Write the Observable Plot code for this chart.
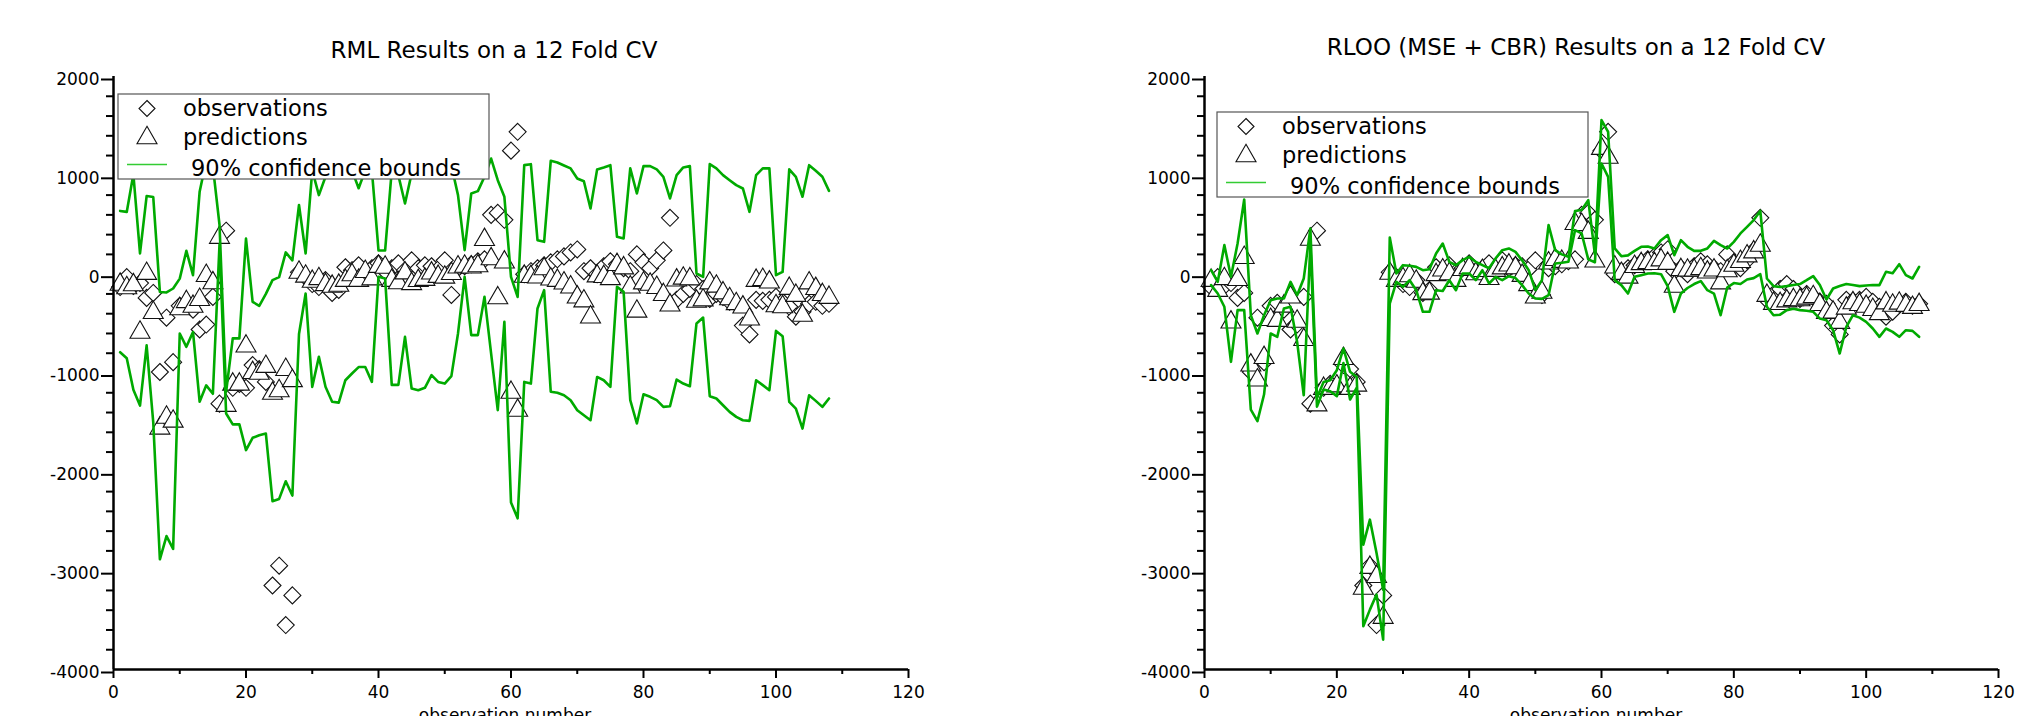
<!DOCTYPE html>
<html>
<head>
<meta charset="utf-8">
<script src="https://cdn.jsdelivr.net/npm/d3@7"></script>
<script src="https://cdn.jsdelivr.net/npm/@observablehq/plot@0.6"></script>
<style>
  html, body { margin: 0; padding: 0; background: #ffffff; }
  #wrap { position: relative; width: 2022px; height: 716px; overflow: hidden; background: #ffffff; }
  .pane { position: absolute; top: 0; width: 1011px; height: 716px; }
  #overlay { position: absolute; left: 0; top: 0; pointer-events: none; }
</style>
</head>
<body>
<div id="wrap">
  <div id="left" class="pane" style="left:0px"></div>
  <div id="right" class="pane" style="left:1011px"></div>
  <svg id="overlay" width="2022" height="716"></svg>
</div>
<script>
// ---------------- DATA ----------------
const titles = ["RML Results on a 12 Fold CV", "RLOO (MSE + CBR) Results on a 12 Fold CV"];
const xLabel = "observation number";
const legendLabels = ["observations", "predictions", "90% confidence bounds"];
const xTicks = [0, 20, 40, 60, 80, 100, 120];
const xMinorTicks = [10, 30, 50, 70, 90, 110];
const yTicks = [-4000, -3000, -2000, -1000, 0, 1000, 2000];
const yMinorTicks = [-3800,-3600,-3400,-3200,-2800,-2600,-2400,-2200,-1800,-1600,-1400,-1200,-800,-600,-400,-200,200,400,600,800,1200,1400,1600,1800];

const obsNumber = d3.range(1, 109);

const observations = [
  -130, -30, -120, -90, -240, -190, -990, -440, -890, -320,
  -290, -360, -560, -510, -230, -1310, 440, -1150, -1110, -1150,
  -920, -960, -1090, -3150, -2950, -3550, -3250, 20, -30, -100,
  -130, -60, -190, -160, 70, 40, 90, 20, 60, 110,
  30, 60, 110, 40, 140, 60, 90, 80, 50, 140,
  -210, 60, 80, 100, 130, 150, 600, 620, 550, 1250,
  1440, 0, 30, 60, 90, 120, 150, 180, 220, 250,
  30, 60, 0, 80, 130, 100, 60, 30, 200, 120,
  60, 140, 240, 570, -260, -200, -150, -100, -150, -250,
  -200, -230, -280, -300, -520, -610, -260, -270, -260, -230,
  -280, -330, -430, -380, -300, -280, -320, -300
];

const rmlPred = [
  -75, -110, -80, -560, 35, -360, -1530, -1420, -1460, -322,
  -250, -298, -229, 14, -60, 400, -1300, -1085, -1085, -700,
  -968, -975, -906, -1178, -1152, -937, -1050, 47, 7, -45,
  -18, -78, -95, -85, -36, 22, -35, 55, -20, 106,
  98, -35, -60, 40, -68, -37, -25, 39, 5, -3,
  34, 100, 108, 100, 112, 378, 183, -212, 150, -1168,
  -1350, 6, 3, -1, 82, -21, -35, -62, -102, -204,
  -243, -406, 10, 3, -18, 125, 91, -102, -347, -61,
  -74, -107, -179, -285, -32, -13, -20, -246, -233, -61,
  -94, -162, -221, -271, -305, -426, -35, -26, -52, -292,
  -302, -116, -187, -389, -61, -118, -179, -207
];
const rmlUpper = [
  640, 630, 1010, 210, 790, 780, -180, -185, -145, -45,
  236, -10, 833, 1150, 1090, 500, -1190, -650, -650, 360,
  -280, -320, -200, -60, -30, 220, 140, 700, 209, 1050,
  800, 985, 1100, 1130, 1000, 1050, 870, 1050, 1050, 240,
  240, 1050, 1000, 715, 1020, 1100, 1100, 1100, 1100, 1100,
  1100, 800, 243, 816, 840, 985, 1170, 951, 783, -27,
  -230, 1103, 1113, 344, 327, 1147, 1130, 1100, 1070, 968,
  940, 665, 1060, 1080, 1103, 378, 361, 1070, 816, 1093,
  1093, 1060, 985, 766, 1002, 1080, 1093, 7, -27, 1113,
  1070, 1002, 951, 901, 867, 631, 1002, 1070, 1070, -10,
  24, 1060, 985, 783, 1103, 1046, 985, 843
];
const rmlLower = [
  -790, -850, -1170, -1330, -720, -1500, -2885, -2650, -2780, -600,
  -735, -585, -1290, -1125, -1210, 300, -1410, -1520, -1520, -1780,
  -1656, -1630, -1613, -2297, -2274, -2095, -2240, -606, -196, -1140,
  -837, -1140, -1290, -1300, -1073, -1005, -940, -940, -1090, -27,
  -44, -1120, -1120, -634, -1157, -1174, -1150, -1022, -1090, -1107,
  -1032, -600, -27, -617, -617, -229, -803, -1376, -482, -2310,
  -2470, -1090, -1107, -347, -162, -1190, -1200, -1225, -1275, -1376,
  -1427, -1478, -1040, -1073, -1140, -128, -179, -1275, -1511, -1215,
  -1241, -1275, -1343, -1336, -1066, -1107, -1134, -499, -439, -1235,
  -1258, -1326, -1393, -1444, -1478, -1484, -1073, -1123, -1174, -574,
  -628, -1292, -1360, -1562, -1225, -1282, -1343, -1258
];

const rlooPred = [
  -35, -137, -18, -457, -27, 196, -892, -1043, -816, -431,
  -440, -296, -204, -449, -634, 381, -1295, -1128, -1128, -1103,
  -826, -1128, -1095, -3150, -2939, -3032, -3445, 37, -35, -18,
  12, -44, -170, -165, 23, 70, 32, -36, 75, 91,
  32, 65, -17, 66, 91, 120, 92, 15, -78, -204,
  -155, 141, 175, 157, 150, 540, 530, 450, 160, 1300,
  1210, 100, 35, -3, 105, 134, 144, 135, 172, 137,
  -95, 74, 68, 68, 83, 49, 70, -61, 62, 118,
  156, 212, 253, 320, -187, -268, -270, -243, -230, -232,
  -215, -200, -280, -361, -356, -460, -316, -262, -280, -298,
  -330, -372, -263, -287, -266, -288, -309, -280
];
const rlooUpper = [
  40, -78, 294, -27, 310, 756, -415, -600, -415, -263,
  -246, -246, -78, -213, -44, 462, -1250, -1090, -1073, -972,
  -752, -988, -1040, -2737, -2484, -2822, -3193, 371, 7, 91,
  85, 74, 40, 50, 209, 310, 125, 90, 142, 175,
  125, 91, 60, 160, 243, 260, 225, 140, 40, -162,
  -60, 496, 243, 200, 175, 640, 650, 749, 200, 1559,
  1440, 260, 182, 190, 236, 277, 280, 260, 344, 395,
  192, 344, 277, 236, 236, 260, 337, 293, 260, 327,
  412, 479, 547, 640, -44, -121, -130, -121, -110, -100,
  -61, -20, -110, -256, -145, -120, -100, -110, -121, -115,
  -110, -111, 24, 10, 101, -10, -44, 74
];
const rlooLower = [
  -111, -196, -330, -887, -364, -364, -1370, -1487, -1218, -600,
  -634, -347, -330, -685, -1225, 300, -1340, -1167, -1184, -1234,
  -900, -1268, -1150, -3562, -3394, -3242, -3698, -297, -78, -128,
  -61, -162, -381, -381, -162, -170, -61, -162, 7, 7,
  -61, 40, -94, -27, -61, -20, -40, -111, -196, -246,
  -250, -213, 108, 115, 125, 445, 412, 150, 120, 1120,
  985, -61, -111, -196, -27, -10, 7, 10, 0, -121,
  -381, -196, -140, -100, -70, -162, -196, -415, -135, -90,
  -100, -54, -40, 0, -330, -415, -410, -364, -350, -364,
  -370, -381, -449, -466, -567, -803, -533, -415, -440, -482,
  -550, -634, -550, -584, -634, -567, -574, -634
];

// ---------------- STYLE ----------------
const green = "#00aa00";
const legendGreen = "#33cc33";
const font = "'DejaVu Sans', Verdana, sans-serif";

const diamondSymbol = {
  draw(ctx, size) {
    const r = Math.sqrt(size / Math.PI);
    ctx.moveTo(0, -r); ctx.lineTo(r, 0); ctx.lineTo(0, r); ctx.lineTo(-r, 0); ctx.closePath();
  }
};
const triangleSymbol = {
  draw(ctx, size) {
    const r = Math.sqrt(size / Math.PI);
    ctx.moveTo(0, -r); ctx.lineTo(r * 1.15, r); ctx.lineTo(-r * 1.15, r); ctx.closePath();
  }
};

function makeChart(pred, upper, lower, ml, mr) {
  const rows = obsNumber.map((n, k) => ({n, obs: observations[k], pred: pred[k], up: upper[k], lo: lower[k]}));
  return Plot.plot({
    width: 1011, height: 716,
    marginLeft: ml, marginRight: mr, marginTop: 76, marginBottom: 47,
    x: {domain: [0, 120]},
    y: {domain: [-4000, 2000]},
    style: {fontFamily: font, fontSize: "17px", color: "black", background: "transparent", overflow: "visible"},
    marks: [
      Plot.dot(rows, {x: "n", y: "obs", symbol: diamondSymbol, r: 8.5, stroke: "#111", fill: "white", strokeWidth: 1.1}),
      Plot.dot(rows, {x: "n", y: "pred", symbol: triangleSymbol, r: 8.7, stroke: "#111", fill: "white", strokeWidth: 1.1}),
      Plot.line(rows, {x: "n", y: "up", stroke: green, strokeWidth: 2.6}),
      Plot.line(rows, {x: "n", y: "lo", stroke: green, strokeWidth: 2.6}),
      Plot.axisY(yMinorTicks, {tickSize: 7, tickFormat: () => "", strokeWidth: 2, label: null}),
      Plot.axisY(yTicks, {tickSize: 12, tickPadding: 2, tickFormat: d => String(d), strokeWidth: 2, label: null, fontSize: 17, dy: 3}),
      Plot.axisX(xMinorTicks, {tickSize: 5, tickFormat: () => "", strokeWidth: 2, label: null}),
      Plot.axisX(xTicks, {tickSize: 9, tickPadding: 7, tickFormat: d => String(d), strokeWidth: 2, label: null, fontSize: 17}),
      Plot.ruleX([0], {stroke: "black", strokeWidth: 2.5}),
      Plot.ruleY([-4000], {stroke: "black", strokeWidth: 2.5})
    ]
  });
}

document.getElementById("left").appendChild(makeChart(rmlPred, rmlUpper, rmlLower, 113, 103));
document.getElementById("right").appendChild(makeChart(rlooPred, rlooUpper, rlooLower, 193, 24));

// ---------------- TITLES, AXIS LABELS, LEGENDS ----------------
const ov = d3.select("#overlay");
const titlePos = [{x: 494, y: 58}, {x: 1576, y: 55}];
titles.forEach((t, i) => {
  ov.append("text").attr("x", titlePos[i].x).attr("y", titlePos[i].y)
    .attr("text-anchor", "middle").attr("font-family", font).attr("font-size", 23).attr("fill", "black").text(t);
});
[505, 1596].forEach(cx => {
  ov.append("text").attr("x", cx).attr("y", 721).attr("text-anchor", "middle")
    .attr("font-family", font).attr("font-size", 17).attr("fill", "black").text(xLabel);
});

const legendPos = [{x: 118, y: 94}, {x: 1217, y: 112}];
legendPos.forEach(p => {
  const g = ov.append("g").attr("transform", `translate(${p.x},${p.y})`);
  g.append("rect").attr("x", 0).attr("y", 0).attr("width", 371).attr("height", 85)
    .attr("fill", "white").attr("stroke", "#555").attr("stroke-width", 1.2);
  g.append("path").attr("transform", "translate(29,14.5)")
    .attr("d", d3.symbol().type(diamondSymbol).size(Math.PI * 8 * 8)())
    .attr("fill", "white").attr("stroke", "#111").attr("stroke-width", 1.1);
  g.append("path").attr("transform", "translate(29,41)")
    .attr("d", d3.symbol().type(triangleSymbol).size(Math.PI * 8.7 * 8.7)())
    .attr("fill", "white").attr("stroke", "#111").attr("stroke-width", 1.1);
  g.append("line").attr("x1", 9).attr("x2", 49).attr("y1", 70.5).attr("y2", 70.5)
    .attr("stroke", legendGreen).attr("stroke-width", 1.5);
  const tx = [65, 65, 73], ty = [22, 51, 81.5];
  legendLabels.forEach((s, i) => {
    g.append("text").attr("x", tx[i]).attr("y", ty[i]).attr("font-family", font)
      .attr("font-size", 22.5).attr("fill", "black").text(s);
  });
});
</script>
</body>
</html>
